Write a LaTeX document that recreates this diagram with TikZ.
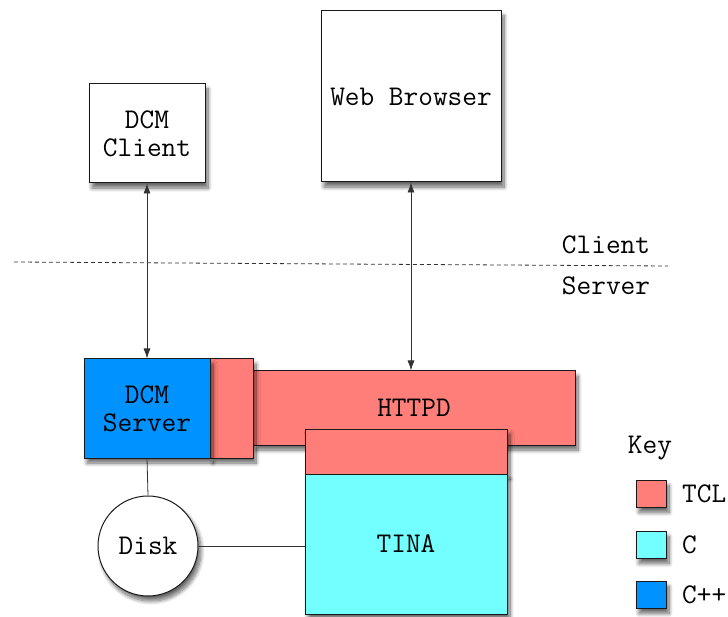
\documentclass[tikz,border=0pt]{standalone}
\usepackage{fontspec}
\usetikzlibrary{arrows.meta,shadows.blur,shapes.geometric}
\definecolor{tclred}{RGB}{255,126,122}
\definecolor{ccyan}{RGB}{115,254,255}
\definecolor{cppblue}{RGB}{0,146,255}
\definecolor{edgegray}{RGB}{25,25,25}
\tikzset{
  box/.style={draw=edgegray, line width=1pt, inner sep=0pt, align=center,
    blur shadow={shadow xshift=3pt, shadow yshift=-5pt, shadow blur steps=10, shadow blur radius=4pt, shadow opacity=60}},
  keybox/.style={box, minimum width=30pt, minimum height=27pt},
  label/.style={inner sep=0pt, align=center},
  link/.style={draw=black!80, line width=0.8pt},
  twoway/.style={link, {Latex[length=10pt,width=7pt]}-{Latex[length=10pt,width=7pt]}}
}
\begin{document}
\begin{tikzpicture}[x=1pt, y=-1pt, font=\ttfamily\fontsize{28.5}{28}\selectfont]
\useasboundingbox (0,0) rectangle (728,617);

% client side
\node[box, fill=white, minimum width=116pt, minimum height=99pt] (dcmc) at (147,133.5) {DCM\\Client};
\node[box, fill=white, minimum width=180pt, minimum height=171pt] (web) at (411,96.5) {Web Browser};

% client / server divide
\coordinate (divl) at (14,262);
\coordinate (divr) at (668,266);
\draw[link, dash pattern=on 4pt off 3pt] (divl) -- (divr);
\node[label] (clab) at (606,245) {Client};
\node[label] (slab) at (606,286) {Server};

% server side
\node[box, fill=tclred, minimum width=322pt, minimum height=74pt] (httpd) at (414,408) {HTTPD};
\node[box, fill=tclred, minimum width=43pt, minimum height=99pt] (glue) at (231.5,408.5) {};
\node[box, fill=cppblue, minimum width=126pt, minimum height=99pt] (dcms) at (147,408.5) {DCM\\Server};
\node[box, fill=tclred, minimum width=202pt, minimum height=45pt] (tinatop) at (406,451.5) {};
\node[box, fill=ccyan, minimum width=202pt, minimum height=140pt] (tina) at (406,544) {TINA};
\node[box, circle, fill=white, minimum size=100pt] (disk) at (148,546) {Disk};

% connectors
\draw[twoway] (dcmc.south) -- (dcmc.south |- dcms.north);
\draw[twoway] (web.south) -- (web.south |- httpd.north);
\draw[link] (dcms.south) -- (disk.north);
\draw[link] (disk.east) -- (disk.east -| tina.west);

% key
\node[label] (key) at (650,448) {Key};
\node[keybox, fill=tclred] (ktcl) at (651,494) {};
\node[keybox, fill=ccyan] (kc) at (651,545) {};
\node[keybox, fill=cppblue] (kcpp) at (651,595) {};
\node[label, anchor=west] (ltcl) at (682,494) {TCL};
\node[label, anchor=west] (lc) at (682,545) {C};
\node[label, anchor=west] (lcpp) at (682,595) {C++};
\end{tikzpicture}
\end{document}
